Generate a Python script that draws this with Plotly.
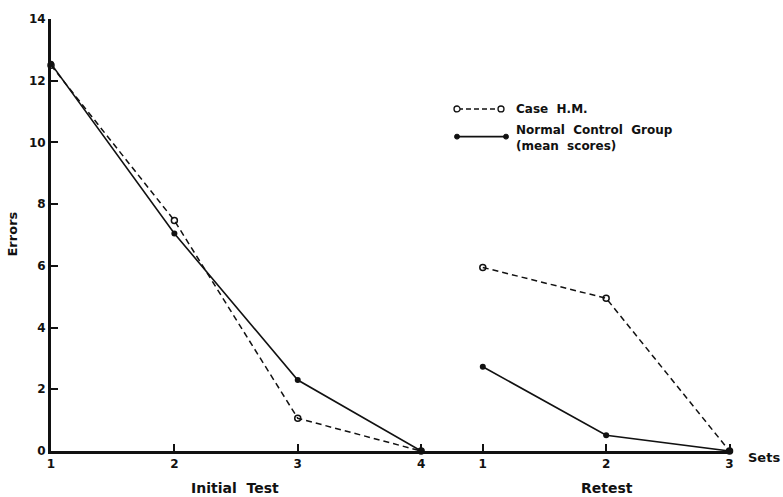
import plotly.graph_objects as go

# ---- data ----
sets_initial = [1, 2, 3, 4]
sets_retest = [1, 2, 3]
hm_initial = [12.5, 7.47, 1.06, 0]
hm_retest = [5.95, 4.95, 0]
ctrl_initial = [12.55, 7.05, 2.3, 0]
ctrl_retest = [2.73, 0.51, 0]
y_ticks = [0, 2, 4, 6, 8, 10, 12, 14]

RETEST_OFFSET = 3.5  # retest block starts half a step after set 4

x_init = list(sets_initial)
x_ret = [s + RETEST_OFFSET for s in sets_retest]
xs = x_init + [None] + x_ret

hm_y = hm_initial + [None] + hm_retest
ctrl_y = ctrl_initial + [None] + ctrl_retest

FONT = "DejaVu Sans"
BLACK = "#111111"

fig = go.Figure()
fig.add_trace(go.Scatter(
    x=xs, y=ctrl_y, mode="lines+markers", connectgaps=False,
    line=dict(color=BLACK, width=1.6),
    marker=dict(symbol="circle", size=6, color=BLACK),
    cliponaxis=False, showlegend=False, name="Normal Control Group"))
fig.add_trace(go.Scatter(
    x=xs, y=hm_y, mode="lines+markers", connectgaps=False,
    line=dict(color=BLACK, width=1.5, dash="6px,4px"),
    marker=dict(symbol="circle-open", size=6, color=BLACK, line=dict(width=1.5)),
    cliponaxis=False, showlegend=False, name="Case H.M."))

L, T, W, H = 51, 14, 681, 437


def px(xp):
    return (xp - L) / W


def py(yp):
    return (T + H - yp) / H


shapes = []
annotations = []

# legend: Case H.M.
shapes.append(dict(type="line", xref="paper", yref="paper",
                   x0=px(458), x1=px(500), y0=py(105), y1=py(105),
                   line=dict(color=BLACK, width=1.5, dash="5px,3px")))
for cx in (457, 501):
    shapes.append(dict(type="circle", xref="paper", yref="paper",
                       x0=px(cx - 3), x1=px(cx + 3), y0=py(105 + 3), y1=py(105 - 3),
                       line=dict(color=BLACK, width=1.3), fillcolor="white"))
annotations.append(dict(text="<b>Case  H.M.</b>", xref="paper", yref="paper",
                        x=px(514), y=py(105), xanchor="left", yanchor="middle",
                        showarrow=False, font=dict(family=FONT, size=12, color=BLACK)))

# legend: Normal control group
shapes.append(dict(type="line", xref="paper", yref="paper",
                   x0=px(457), x1=px(506), y0=py(133), y1=py(133),
                   line=dict(color=BLACK, width=1.6)))
for cx in (457, 506):
    shapes.append(dict(type="circle", xref="paper", yref="paper",
                       x0=px(cx - 2.5), x1=px(cx + 2.5), y0=py(133 + 2.5), y1=py(133 - 2.5),
                       line=dict(color=BLACK, width=1), fillcolor=BLACK))
annotations.append(dict(text="<b>Normal  Control  Group</b><br><b>(mean  scores)</b>",
                        xref="paper", yref="paper", align="left",
                        x=px(514), y=py(134), xanchor="left", yanchor="middle",
                        showarrow=False, font=dict(family=FONT, size=12, color=BLACK)))

# axis titles
annotations.append(dict(text="<b>Initial  Test</b>", xref="paper", yref="paper",
                        x=px(235), y=py(488), xanchor="center", yanchor="middle",
                        showarrow=False, font=dict(family=FONT, size=14, color=BLACK)))
annotations.append(dict(text="<b>Retest</b>", xref="paper", yref="paper",
                        x=px(607), y=py(488), xanchor="center", yanchor="middle",
                        showarrow=False, font=dict(family=FONT, size=14, color=BLACK)))
annotations.append(dict(text="<b>Sets</b>", xref="paper", yref="paper",
                        x=px(746), y=py(458), xanchor="left", yanchor="middle",
                        showarrow=False, font=dict(family=FONT, size=13, color=BLACK)))
annotations.append(dict(text="<b>Errors</b>", xref="paper", yref="paper",
                        x=px(13), y=py(232), xanchor="center", yanchor="middle",
                        textangle=-90,
                        showarrow=False, font=dict(family=FONT, size=13, color=BLACK)))

tick_vals = x_init + x_ret
tick_text = [str(s) for s in sets_initial] + [str(s) for s in sets_retest]

fig.update_layout(
    width=783, height=497,
    margin=dict(l=L, r=783 - L - W, t=T, b=497 - T - H),
    paper_bgcolor="white", plot_bgcolor="white",
    shapes=shapes, annotations=annotations,
    font=dict(family=FONT, color=BLACK),
    xaxis=dict(range=[1, 6.52], tickvals=tick_vals, ticktext=tick_text,
               showgrid=False, zeroline=False, showline=True,
               linecolor=BLACK, linewidth=3, ticks="inside", ticklen=7,
               tickwidth=2, tickcolor=BLACK,
               tickfont=dict(family=FONT, size=12, color=BLACK, weight="bold")),
    yaxis=dict(range=[0, 14], tickvals=y_ticks,
               showgrid=False, zeroline=False, showline=True,
               linecolor=BLACK, linewidth=3, ticks="inside", ticklen=7,
               tickwidth=2, tickcolor=BLACK,
               tickfont=dict(family=FONT, size=12, color=BLACK, weight="bold")),
)

fig.write_html("out.html", config={"displayModeBar": False})

# remove the browser's default page margin so the figure fills the window exactly
with open("out.html", "r", encoding="utf-8") as f:
    html = f.read()
html = html.replace("<head>", "<head><style>html,body{margin:0;padding:0;overflow:hidden;}</style>", 1)
with open("out.html", "w", encoding="utf-8") as f:
    f.write(html)
